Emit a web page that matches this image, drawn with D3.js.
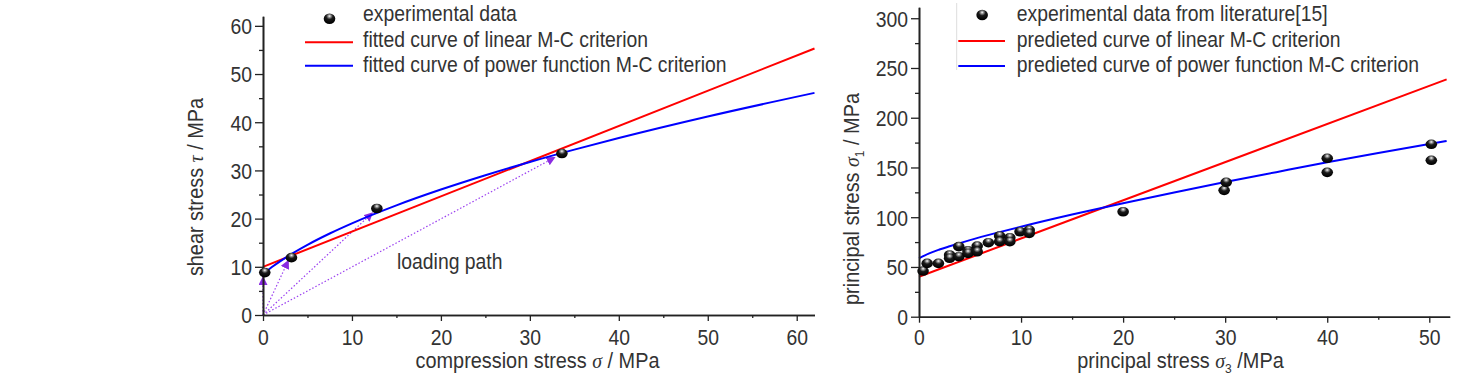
<!DOCTYPE html>
<html><head><meta charset="utf-8">
<script src="https://cdn.jsdelivr.net/npm/d3@7"></script>
<style>
html,body{margin:0;padding:0;background:#fff;}
text{font-family:"Liberation Sans",Arial,sans-serif;fill:#333;}
.sym{font-family:"Liberation Serif","Times New Roman",serif;font-style:italic;}
</style>
</head><body>
<svg id="c" width="1472" height="378"></svg>
<script>
// ---------- Left chart data ----------
const leftExpSigma = [0.2, 3.2, 12.8, 33.6];
const leftExpTau   = [8.8, 11.9, 22.1, 33.5];
const leftLinearSigma = [0, 62];
const leftLinearTau   = [10.0, 55.3];
const leftPowerSigma = [0, 0.5, 1, 2, 3, 5, 7.5, 10, 15, 20, 25, 30, 35, 40, 50, 62];
const leftPowerTau   = [8.49, 9.24, 9.95, 11.24, 12.43, 14.56, 16.91, 19.02, 22.75, 26.03, 29.00, 31.76, 34.32, 36.72, 41.19, 46.09];
const loadPathSigma = [0, 2.85, 12.3, 32.8];
const loadPathTau   = [7.9, 11.3, 21.2, 32.7];
const leftXTicks = [0, 10, 20, 30, 40, 50, 60];
const leftYTicks = [0, 10, 20, 30, 40, 50, 60];
const leftLegend = ["experimental data", "fitted curve of linear M-C criterion", "fitted curve of power function M-C criterion"];

// ---------- Right chart data ----------
const rightExpS3 = [0.4, 0.8, 1.9, 3.0, 3.0, 3.9, 3.9, 4.8, 4.8, 5.7, 5.7, 6.8, 7.9, 7.9, 8.9, 8.9, 9.9, 10.8, 10.8, 20.0, 29.9, 30.1, 40.0, 40.0, 50.2, 50.2];
const rightExpS1 = [45.9, 53.6, 53.6, 62.0, 58.7, 70.4, 60.3, 66.3, 63.7, 71.0, 65.3, 74.4, 81.1, 75.4, 79.4, 75.4, 85.4, 87.1, 83.8, 105.5, 127.0, 135.1, 159.2, 145.1, 173.3, 157.2];
const rightLinearS3 = [0, 51.7];
const rightLinearS1 = [40.2, 238.6];
const rightPowerS3 = [0, 1, 2, 3, 5, 7.5, 10, 15, 20, 25, 30, 35, 40, 45, 51.7];
const rightPowerS1 = [58.7, 63.7, 67.5, 70.8, 77.0, 84.0, 90.5, 102.7, 114.1, 124.9, 135.3, 145.3, 155.2, 164.6, 176.6];
const rightXTicks = [0, 10, 20, 30, 40, 50];
const rightYTicks = [0, 50, 100, 150, 200, 250, 300];
const rightLegend = ["experimental data from literature[15]", "predieted curve of linear M-C criterion", "predieted curve of power function M-C criterion"];

const SX = 0.88;      // horizontal squeeze of the original lettering
const FS = 22;        // font size
const svg = d3.select("#c");
const defs = svg.append("defs");
const grad = defs.append("radialGradient").attr("id","ball").attr("cx","50%").attr("cy","30%").attr("r","65%").attr("fx","50%").attr("fy","25%");
grad.append("stop").attr("offset","0%").attr("stop-color","#ffffff");
grad.append("stop").attr("offset","18%").attr("stop-color","#9a9a9a");
grad.append("stop").attr("offset","45%").attr("stop-color","#1a1a1a");
grad.append("stop").attr("offset","100%").attr("stop-color","#000");
defs.append("marker").attr("id","arr").attr("viewBox","0 0 10 10").attr("refX",9).attr("refY",5)
  .attr("markerWidth",9).attr("markerHeight",9).attr("markerUnits","userSpaceOnUse").attr("orient","auto")
  .append("path").attr("d","M0,0L10,5L0,10z").attr("fill","#8a2be2");

const zip = (a,b)=>a.map((v,i)=>[v,b[i]]);
const AX = "#222";

function stext(g, x, y, opts={}){
  const rot = opts.rotate ? " rotate(-90)" : "";
  return g.append("text").attr("transform",`translate(${x},${y})${rot} scale(${opts.sx || SX},1)`)
    .attr("text-anchor", opts.anchor || "start").attr("font-size", opts.size || FS);
}

function drawAxes(g, x, y, xt, yt, xMinorStep, yMinorStep){
  const xMinor = d3.range(x.domain()[0], x.domain()[1]+1e-9, xMinorStep).filter(v=>!xt.includes(v));
  const yMinor = d3.range(y.domain()[0], y.domain()[1]+1e-9, yMinorStep).filter(v=>!yt.includes(v));
  const y0 = y(0), x0 = x(0);
  const gx = g.append("g").attr("transform",`translate(0,${y0})`)
    .call(d3.axisBottom(x).tickValues(xt).tickSize(6).tickSizeOuter(0).tickFormat(d3.format("d")));
  g.append("g").attr("transform",`translate(0,${y0})`)
    .call(d3.axisBottom(x).tickValues(xMinor).tickSize(3).tickSizeOuter(0).tickFormat(""));
  const gy = g.append("g").attr("transform",`translate(${x0},0)`)
    .call(d3.axisLeft(y).tickValues(yt).tickSize(8).tickSizeOuter(0).tickFormat(d3.format("d")));
  g.append("g").attr("transform",`translate(${x0},0)`)
    .call(d3.axisLeft(y).tickValues(yMinor).tickSize(4).tickSizeOuter(0).tickFormat(""));
  g.selectAll(".domain").attr("stroke",AX).attr("stroke-width",1.6);
  g.selectAll(".tick line").attr("stroke",AX).attr("stroke-width",1.3);
  gx.selectAll("text").attr("font-size",FS).attr("y",345 - y0).attr("dy",null).attr("fill","#333")
    .attr("transform",`scale(${SX},1)`).style("font-family",'"Liberation Sans",Arial,sans-serif');
  gy.selectAll("text").attr("font-size",FS).attr("x",-11/SX).attr("dy","0.36em").attr("fill","#333")
    .attr("transform",`scale(${SX},1)`).style("font-family",'"Liberation Sans",Arial,sans-serif');
}

function balls(g, pts, x, y){
  g.selectAll(null).data(pts).enter().append("ellipse")
    .attr("cx",d=>x(d[0])).attr("cy",d=>y(d[1])).attr("rx",5.8).attr("ry",4.8).attr("fill","url(#ball)");
}

function legend(g, lx1, lx2, tx, labels, symY, textY){
  g.append("ellipse").attr("cx",(lx1+lx2)/2+0.5).attr("cy",symY[0]).attr("rx",5.8).attr("ry",5.3).attr("fill","url(#ball)");
  g.append("line").attr("x1",lx1).attr("x2",lx2).attr("y1",symY[1]).attr("y2",symY[1]).attr("stroke","#ff0000").attr("stroke-width",2);
  g.append("line").attr("x1",lx1).attr("x2",lx2).attr("y1",symY[2]).attr("y2",symY[2]).attr("stroke","#0000ff").attr("stroke-width",2);
  labels.forEach((t,i)=>stext(g, tx, textY[i]).text(t));
}

// ================= LEFT =================
{
  const g = svg.append("g");
  const x = d3.scaleLinear().domain([0,62]).range([263, 814.5]);
  const y = d3.scaleLinear().domain([0,62]).range([315, 16.2]);
  const line = d3.line().x(d=>x(d[0])).y(d=>y(d[1]));
  loadPathSigma.forEach((s,i)=>{
    g.append("path").attr("d", line([[0,0],[s, loadPathTau[i]]])).attr("fill","none")
      .attr("stroke","#9b40f0").attr("stroke-width",1.2).attr("stroke-dasharray","1.5,2")
      .attr("marker-end","url(#arr)");
  });
  g.append("path").attr("d", line(zip(leftLinearSigma,leftLinearTau))).attr("fill","none").attr("stroke","#ff0000").attr("stroke-width",2);
  g.append("path").attr("d", line.curve(d3.curveMonotoneX)(zip(leftPowerSigma,leftPowerTau))).attr("fill","none").attr("stroke","#0000ff").attr("stroke-width",2);
  drawAxes(g, x, y, leftXTicks, leftYTicks, 5, 5);
  balls(g, zip(leftExpSigma,leftExpTau), x, y);
  stext(g, 397, 268.5).text("loading path");
  legend(g, 305, 353, 363, leftLegend, [18.7, 42.3, 65.7], [20.5, 46.5, 71.5]);
  const xt = stext(g, 537.5, 367.5, {anchor:"middle", size:21.5, sx:0.925});
  xt.append("tspan").text("compression stress ");
  xt.append("tspan").attr("class","sym").text("σ");
  xt.append("tspan").text(" / MPa");
  const yt = stext(g, 203, 187, {anchor:"middle", rotate:true, size:21.5, sx:0.925});
  yt.append("tspan").text("shear stress ");
  yt.append("tspan").attr("class","sym").text("τ");
  yt.append("tspan").text(" / MPa");
}

// ================= RIGHT =================
{
  const g = svg.append("g");
  const x = d3.scaleLinear().domain([0,52]).range([919, 1449.7]);
  const y = d3.scaleLinear().domain([0,311]).range([316.7, 7.3]);
  const line = d3.line().x(d=>x(d[0])).y(d=>y(d[1]));
  g.append("path").attr("d", line(zip(rightLinearS3,rightLinearS1))).attr("fill","none").attr("stroke","#ff0000").attr("stroke-width",2);
  g.append("path").attr("d", line.curve(d3.curveMonotoneX)(zip(rightPowerS3,rightPowerS1))).attr("fill","none").attr("stroke","#0000ff").attr("stroke-width",2);
  drawAxes(g, x, y, rightXTicks, rightYTicks, 5, 25);
  balls(g, zip(rightExpS3,rightExpS1), x, y);
  g.append("line").attr("x1",956.7).attr("x2",956.7).attr("y1",3).attr("y2",70).attr("stroke","#ddd").attr("stroke-width",1);
  legend(g, 958.3, 1005, 1016.7, rightLegend, [15, 41, 66], [20.5, 46.5, 71.5]);
  const xt = stext(g, 1180.5, 367.5, {anchor:"middle", size:21.5, sx:0.925});
  xt.append("tspan").text("principal stress ");
  xt.append("tspan").attr("class","sym").text("σ");
  xt.append("tspan").attr("font-size",13).attr("dy",5).text("3");
  xt.append("tspan").attr("dy",-5).text(" /MPa");
  const yt = stext(g, 859, 199, {anchor:"middle", rotate:true, size:21.5, sx:0.925});
  yt.append("tspan").text("principal stress ");
  yt.append("tspan").attr("class","sym").text("σ");
  yt.append("tspan").attr("font-size",13).attr("dy",5).text("1");
  yt.append("tspan").attr("dy",-5).text(" / MPa");
}
</script>
</body></html>
